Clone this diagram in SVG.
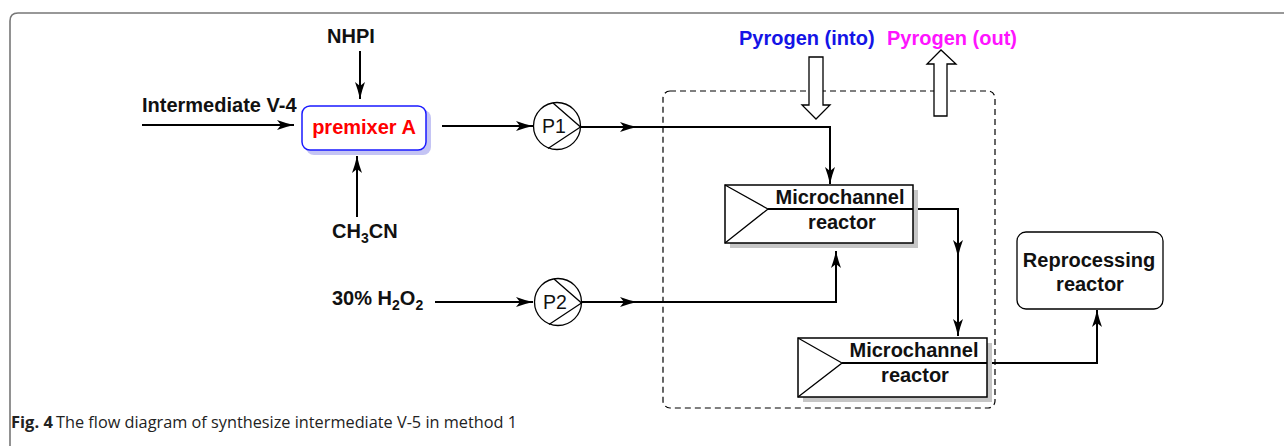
<svg xmlns="http://www.w3.org/2000/svg" width="1284" height="446" viewBox="0 0 1284 446">
  <style>
    .lbl { font-family: "Liberation Sans", Arial, sans-serif; font-weight: bold; font-size: 20px; fill: #111; }
    .pump-txt { font-family: "Liberation Sans", Arial, sans-serif; font-size: 19.5px; fill: #111; }
    .flow { fill: none; stroke: #000; stroke-width: 2; }
    .flow-end { fill: none; stroke: #000; stroke-width: 2; marker-end: url(#arr); }
    .pump { fill: #fff; stroke: #000; stroke-width: 1.3; }
    .reactor { fill: #fff; stroke: #000; stroke-width: 1.5; }
    .shadow { fill: #c6c6c6; }
    .thin { fill: none; stroke: #000; stroke-width: 1.3; }
    .hollow { fill: #fff; stroke: #000; stroke-width: 1.3; }
    .caption { font-family: "Open Sans", "Noto Sans", sans-serif; font-size: 16.3px; fill: #222; }
  </style>
  <defs>
    <marker id="arr" markerUnits="userSpaceOnUse" markerWidth="20" markerHeight="12" viewBox="0 -6 18 12" refX="17" refY="0" orient="auto">
      <path d="M0,-5 Q8,-2 17,0 Q8,2 0,5 L4,0 Z" fill="#000"/>
    </marker>
  </defs>

  <!-- figure frame -->
  <path d="M10,450 V21 Q10,13 18,13 H1290" fill="none" stroke="#777" stroke-width="1.6"/>

  <!-- dashed enclosure around the reactor section -->
  <rect id="reactor-zone" x="663" y="91" width="332" height="317" rx="7" fill="none" stroke="#000" stroke-width="1.2" stroke-dasharray="6,4"/>

  <!-- connectors -->
  <g id="connectors">
    <path class="flow-end" d="M142,125 H294"/>
    <path class="flow-end" d="M360,51 V99"/>
    <path class="flow-end" d="M357,217 V156"/>
    <path class="flow-end" d="M442,126 H533"/>
    <path class="flow-end" d="M580,127 H637"/>
    <path class="flow-end" d="M637,127 H830 V184"/>
    <path class="flow-end" d="M435,302 H533"/>
    <path class="flow-end" d="M582,302 H637"/>
    <path class="flow-end" d="M637,302 H836 V251"/>
    <path class="flow-end" d="M768,209 H958 V257"/>
    <path class="flow-end" d="M958,257 V336"/>
    <path class="flow-end" d="M842,363 H1097 V310"/>
  </g>

  <!-- feed labels -->
  <g id="feed-intermediate">
    <text class="lbl" x="142" y="112">Intermediate V-4</text>
  </g>
  <g id="feed-nhpi">
    <text class="lbl" x="351" y="43" text-anchor="middle">NHPI</text>
  </g>
  <g id="feed-ch3cn">
    <text class="lbl" x="332" y="238">CH<tspan font-size="14" dy="5">3</tspan><tspan dy="-5">CN</tspan></text>
  </g>
  <g id="feed-h2o2">
    <text class="lbl" x="332" y="305">30% H<tspan font-size="14" dy="5">2</tspan><tspan dy="-5">O</tspan><tspan font-size="14" dy="5">2</tspan></text>
  </g>

  <!-- premixer -->
  <g id="premixer-a">
    <rect x="306" y="110" width="125" height="45" rx="8" fill="#c4c4f4"/>
    <rect x="302" y="106" width="124" height="44" rx="8" fill="#fff" stroke="#1a1aff" stroke-width="1.5"/>
    <text class="lbl" x="364" y="134" text-anchor="middle" style="fill:#ff0000">premixer A</text>
  </g>

  <!-- pumps -->
  <g id="pump-p1">
    <circle class="pump" cx="557" cy="126" r="23.5"/>
    <path class="thin" d="M553,103 L580.5,127 L548,148.5"/>
    <text class="pump-txt" x="554" y="133" text-anchor="middle">P1</text>
  </g>
  <g id="pump-p2">
    <circle class="pump" cx="558" cy="302" r="23.5"/>
    <path class="thin" d="M554,279 L581.5,303 L549,324.5"/>
    <text class="pump-txt" x="555" y="309" text-anchor="middle">P2</text>
  </g>

  <!-- heat transfer medium -->
  <g id="pyrogen-into">
    <text class="lbl" x="739" y="45" style="fill:#1414e6">Pyrogen (into)</text>
    <path class="hollow" d="M809,57 H823 V105 H830 L816,119 L802,105 H809 Z"/>
  </g>
  <g id="pyrogen-out">
    <text class="lbl" x="887" y="45" style="fill:#ff14ff">Pyrogen (out)</text>
    <path class="hollow" d="M934,116 V64 H927 L941,50 L956,64 H947 V116 Z"/>
  </g>

  <!-- microchannel reactors -->
  <g id="reactor-1">
    <rect class="shadow" x="730" y="190" width="188" height="58"/>
    <rect class="reactor" x="725" y="185" width="188" height="58"/>
    <path class="thin" d="M725,185 L768,209 L725,243"/>
    <path class="flow" d="M768,209 H913"/>
    <text class="lbl" x="840" y="204" text-anchor="middle">Microchannel</text>
    <text class="lbl" x="842" y="229" text-anchor="middle">reactor</text>
  </g>
  <g id="reactor-2">
    <rect class="shadow" x="803" y="343" width="189" height="59"/>
    <rect class="reactor" x="798" y="338" width="189" height="59"/>
    <path class="thin" d="M798,338 L842,363 L798,397"/>
    <path class="flow" d="M842,363 H987"/>
    <text class="lbl" x="914" y="357" text-anchor="middle">Microchannel</text>
    <text class="lbl" x="915" y="382" text-anchor="middle">reactor</text>
  </g>

  <!-- downstream -->
  <g id="reprocessing-reactor">
    <rect x="1017" y="232" width="146" height="77" rx="9" fill="#fff" stroke="#000" stroke-width="1.3"/>
    <text class="lbl" x="1089" y="267" text-anchor="middle">Reprocessing</text>
    <text class="lbl" x="1090" y="291" text-anchor="middle">reactor</text>
  </g>

  <!-- caption -->
  <text class="caption" x="11" y="428"><tspan font-weight="bold" font-size="16.5">Fig. 4</tspan><tspan x="56">The flow diagram of synthesize intermediate V-5 in method 1</tspan></text>
</svg>
